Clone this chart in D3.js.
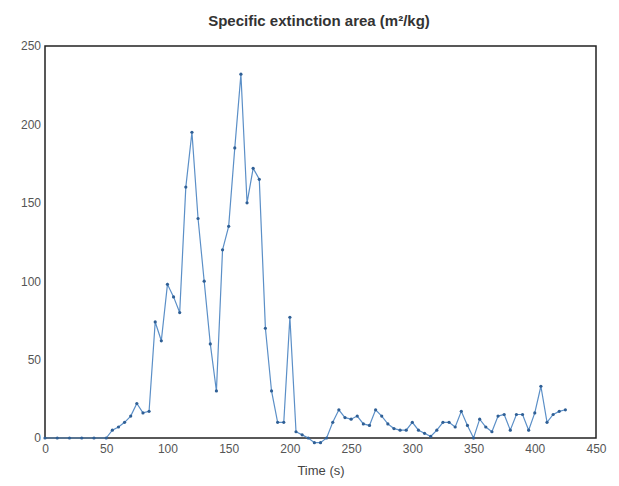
<!DOCTYPE html>
<html>
<head>
<meta charset="utf-8">
<script src="https://cdn.jsdelivr.net/npm/d3@7"></script>
<style>
body { margin: 0; background: #fff; }
text { font-family: "Liberation Sans", Arial, sans-serif; }
</style>
</head>
<body>
<svg id="chart" width="619" height="486"></svg>
<script>
// Time (s) and specific extinction area (m²/kg)
const times = [0, 10, 20, 30, 40, 50, 55, 60, 65, 70, 75, 80, 85, 90, 95, 100, 105, 110, 115, 120,
    125, 130, 135, 140, 145, 150, 155, 160, 165, 170, 175, 180, 185, 190, 195, 200, 205, 210, 215,
    220, 225, 230, 235, 240, 245, 250, 255, 260, 265, 270, 275, 280, 285, 290, 295, 300, 305, 310,
    315, 320, 325, 330, 335, 340, 345, 350, 355, 360, 365, 370, 375, 380, 385, 390, 395, 400, 405,
    410, 415, 420, 425];
const values = [0, 0, 0, 0, 0, 0, 5, 7, 10, 14, 22, 16, 17, 74, 62, 98, 90, 80, 160, 195,
    140, 100, 60, 30, 120, 135, 185, 232, 150, 172, 165, 70, 30, 10, 10, 77, 4, 2, 0,
    -3, -3, 0, 10, 18, 13, 12, 14, 9, 8, 18, 14, 9, 6, 5, 5, 10, 5, 3,
    1, 5, 10, 10, 7, 17, 8, 0, 12, 7, 4, 14, 15, 5, 15, 15, 5, 16, 33,
    10, 15, 17, 18];
const xTicks = [0, 50, 100, 150, 200, 250, 300, 350, 400, 450];
const yTicks = [0, 50, 100, 150, 200, 250];

const svg = d3.select("#chart");
const m = { left: 45, top: 46, right: 596, bottom: 438 };

const x = d3.scaleLinear().domain([0, 450]).range([m.left, m.right]);
const y = d3.scaleLinear().domain([0, 250]).range([m.bottom, m.top]);

// frame
svg.append("rect")
    .attr("x", m.left).attr("y", m.top)
    .attr("width", m.right - m.left).attr("height", m.bottom - m.top)
    .attr("fill", "none").attr("stroke", "#222").attr("stroke-width", 1.5);

const xAxis = svg.append("g")
    .attr("transform", `translate(0,${m.bottom})`)
    .call(d3.axisBottom(x).tickValues(xTicks).tickSize(0).tickPadding(6));
const yAxis = svg.append("g")
    .attr("transform", `translate(${m.left},0)`)
    .call(d3.axisLeft(y).tickValues(yTicks).tickSize(0).tickPadding(4));
[xAxis, yAxis].forEach(a => {
    a.select(".domain").remove();
    a.selectAll("text").attr("font-size", 12).attr("fill", "#555");
});

const line = d3.line().x((d, i) => x(times[i])).y(d => y(d));
svg.append("path")
    .datum(values)
    .attr("d", line)
    .attr("fill", "none")
    .attr("stroke", "#5b8fc7")
    .attr("stroke-width", 1.2);

svg.selectAll("circle")
    .data(values)
    .enter()
    .append("circle")
    .attr("cx", (d, i) => x(times[i]))
    .attr("cy", d => y(d))
    .attr("r", 1.6)
    .attr("fill", "#2f5f95");

svg.append("text")
    .attr("x", 319).attr("y", 26)
    .attr("text-anchor", "middle")
    .attr("font-size", 15).attr("font-weight", "bold").attr("fill", "#333")
    .text("Specific extinction area (m²/kg)");

svg.append("text")
    .attr("x", 321).attr("y", 475)
    .attr("text-anchor", "middle")
    .attr("font-size", 13).attr("fill", "#444")
    .text("Time (s)");
</script>
</body>
</html>
